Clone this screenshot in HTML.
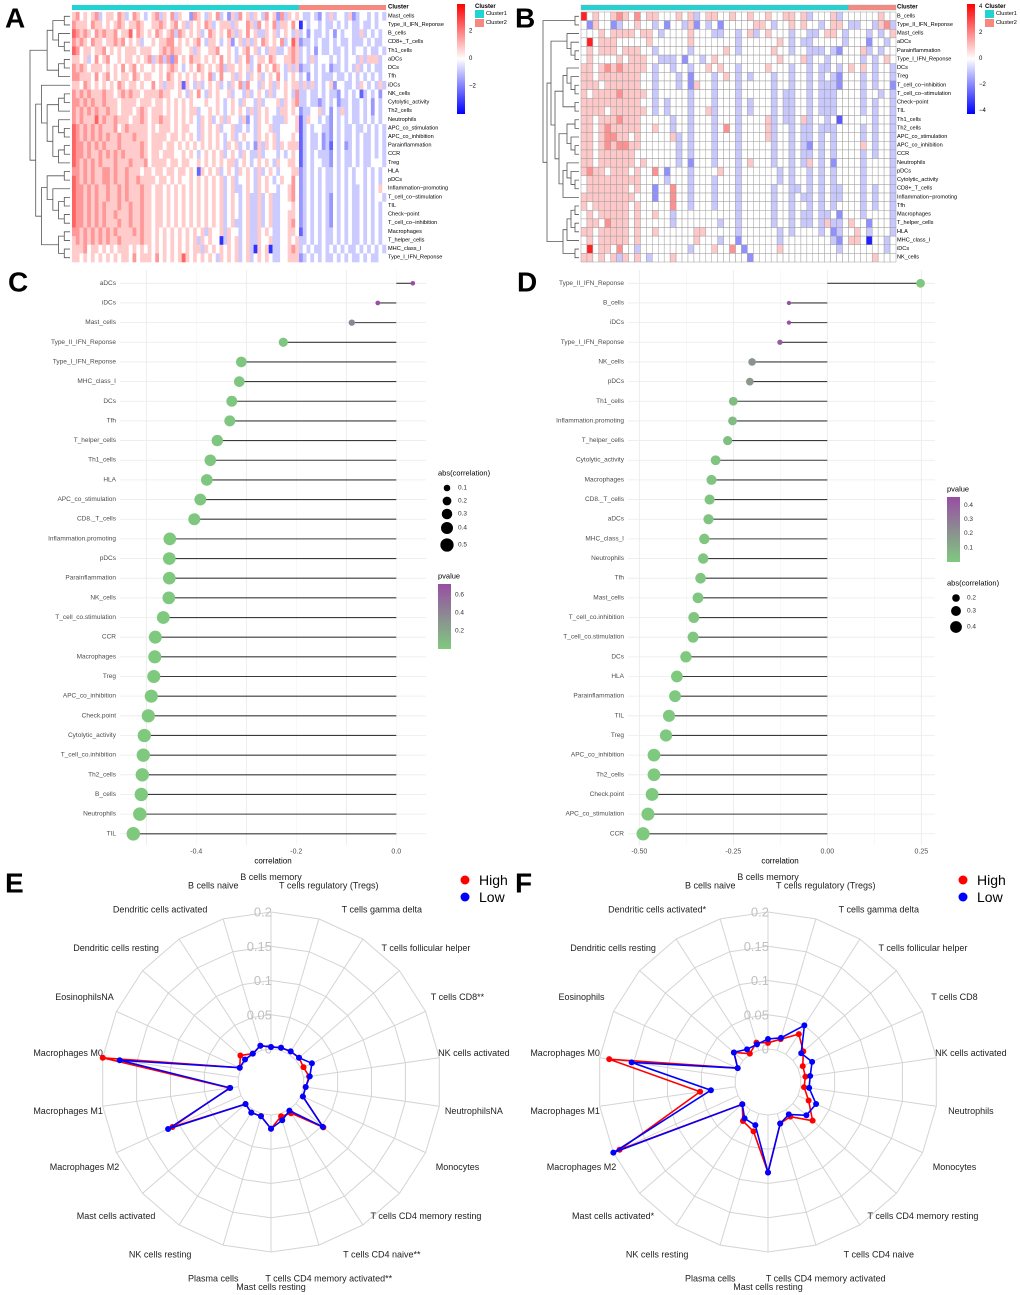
<!DOCTYPE html>
<html><head><meta charset="utf-8"><title>Immune figure</title>
<style>
html,body{margin:0;padding:0;background:#fff;}
svg{display:block;font-family:"Liberation Sans",Arial,sans-serif;}
</style></head>
<body>
<svg id="fig" xmlns="http://www.w3.org/2000/svg" width="1020" height="1295" viewBox="0 0 1020 1295">
<defs>
<linearGradient id="gA" x1="0" y1="0" x2="0" y2="1"><stop offset="0" stop-color="#ff0000"/><stop offset="0.5" stop-color="#ffffff"/><stop offset="1" stop-color="#0000ff"/></linearGradient>
<linearGradient id="gP" x1="0" y1="0" x2="0" y2="1"><stop offset="0" stop-color="#984ea3"/><stop offset="0.5" stop-color="#8c8c91"/><stop offset="1" stop-color="#7fc97f"/></linearGradient>
</defs>
</svg>
<script>
// ===== Panel A heatmap data =====
const A_rows=["Mast_cells","Type_II_IFN_Reponse","B_cells","CD8+_T_cells","Th1_cells","aDCs","DCs","Tfh","iDCs","NK_cells","Cytolytic_activity","Th2_cells","Neutrophils","APC_co_stimulation","APC_co_inhibition","Parainflammation","CCR","Treg","HLA","pDCs","Inflammation\u2212promoting","T_cell_co\u2212stimulation","TIL","Check\u2212point","T_cell_co\u2212inhibition","Macrophages","T_helper_cells","MHC_class_I","Type_I_IFN_Reponse"];
const A_cluster1Count=60;
const A_values=[
"5645456345 5465346543 4563546354 4265435463 4253645354 3645263545 | 4334324353 4435234434 343",
"6555465545 4565455654 4556545645 3545465345 5535446536 4546355464 | 0434434334 3434334334 344",
"7656546565 5645574654 5465456365 4545346545 4653546453 3545345435 | 3424334342 4344335343 434",
"6565465545 5656454534 4545566454 5456435543 4524535354 6545463475 | 2334343343 4334333434 334",
"7645545564 5454555455 5445656554 4535445564 4543456453 4355334565 | 3434243343 3434344343 343",
"5545346456 4454554545 6356362645 4655454546 4543546345 5465445565 | 3435344434 3434435355 534",
"6565455545 4546456454 4545456543 4546545456 3554545346 4546543535 | 2334343423 3434353434 334",
"6655546456 4545546545 5445465454 5454546346 4453543545 3454643454 | 3424343334 3343434343 434",
"5546545454 5465455454 4645355451 5435345453 4354636443 5453545455 | 3535343452 4433435434 353",
"6565655565 5456565545 5556554454 3546435454 4534435345 4353445436 | 3343343433 2434341343 424",
"6656565565 5545555455 5455454545 4544454454 3454354435 3444535456 | 3343323434 2334334342 434",
"6565656556 5545554565 4555454545 4553445454 3454543535 4544355454 | 2334453424 3534334342 434",
"6565557565 5655545565 4556554545 4543545345 3544352435 4543335445 | 1354434324 3434334343 434",
"7656565655 5645655555 4545554545 5443545453 4453343435 4453344445 | 1343443324 3433433434 343",
"7656565656 5565556555 4555545545 4543545454 3453454435 4545344454 | 1343342324 3433434334 343",
"7665656565 5565555565 4555455454 5454545454 3545343425 3545354555 | 1343342314 3423434334 343",
"7665655656 5656555565 4554555445 4543454545 3454354335 3444343454 | 1343433324 3433434334 343",
"7656565655 5655565556 4555545545 5445454545 4553454345 4543544554 | 1343443324 3433434334 443",
"6656565566 5655655545 5455455455 4541545453 4543545435 3454344455 | 2343434334 3434344343 434",
"7656565566 5655655655 5545545454 4545454545 3453445435 4543454464 | 2343434334 3434344343 434",
"7665656556 5565655565 5455454545 4545454545 3453345435 4544344564 | 2343434334 3434334343 454",
"7665656556 5565655565 5455454545 4545454545 3454345335 3453344564 | 2343434324 3434334343 443",
"7665656565 5565565565 5455454545 4545454545 3454345335 3453344454 | 2343434324 3434334343 434",
"7665656565 5655565565 5455454545 4545454545 3454345335 3453344554 | 2343434324 3434334343 434",
"7665656565 5565565565 5455454545 4545454545 3453345335 3453344564 | 2343434324 3434334343 434",
"6656565656 5655556565 5454545454 5454535445 3544345335 4543344554 | 1343434334 3434334343 434",
"5656565656 5565555565 5454545454 5453545440 3545345335 4453344545 | 3343434334 3434334343 434",
"5556455454 5455545454 5454545454 5455354545 4545345305 4503344565 | 3434334343 4343343434 343",
"5545454545 4545546455 5464545457 5454545435 4545345345 4543344555 | 2343434334 3434334343 344"];
const A_tree=[[[[0,1],[2,[3,4]]],[[5,6],7]],[[8,[[[9,10],11],[[12,[13,14]],[[15,16],17]]]],[[[18,19],[20,[[21,22],[23,24]]]],[[25,26],[27,28]]]]];

// ===== Panel B heatmap data =====
const B_rows=["B_cells","Type_II_IFN_Reponse","Mast_cells","aDCs","Parainflammation","Type_I_IFN_Reponse","DCs","Treg","T_cell_co\u2212inhibition","T_cell_co\u2212stimulation","Check\u2212point","TIL","Th1_cells","Th2_cells","APC_co_stimulation","APC_co_inhibition","CCR","Neutrophils","pDCs","Cytolytic_activity","CD8+_T_cells","Inflammation\u2212promoting","Tfh","Macrophages","T_helper_cells","HLA","MHC_class_I","iDCs","NK_cells"];
const B_cluster1Count=45;
const B_values=[
"8454456546 4554445453 4554454454 4544554534 44534 | 44444544",
"4254423445 4434244352 4342444445 5434454544 34554 | 33443563",
"4445455554 5543444454 4433443453 4544434433 45543 | 44434345",
"4845554444 4544444454 4444443444 4445434334 44443 | 44424434",
"4545554555 4434444434 4444543444 4454434433 34324 | 44534344",
"4544445455 5443334244 3454444444 4445444534 43444 | 44343454",
"5545656555 5434434434 4545443444 4544434434 33434 | 54543443",
"5545555555 4434443424 4434543434 4434434434 34324 | 44343443",
"5554555555 4434443425 4434443444 4434434434 33324 | 44343442",
"5455556555 5434444434 4434443444 4434334434 33344 | 44344343",
"5555555555 4434344434 4434443434 4434334434 33344 | 44343443",
"5555455555 5434344434 4534443434 4434334434 33344 | 44343443",
"5545556555 4444434434 4434443444 4534334534 43414 | 44443443",
"5545655555 4454434434 4434643444 4534434334 33344 | 44343443",
"5545665545 4444453434 4434443444 4534434334 34344 | 44343443",
"5545656655 4444443434 4434443444 4434434324 34344 | 44543443",
"5545555554 4444443434 4434443444 4434434334 34344 | 44343443",
"5545555554 5444443424 4434443454 4434434354 34244 | 44344443",
"5655455545 4464244434 4445443444 4443434434 34344 | 44344443",
"4555555555 4444344434 4434443444 4443434434 34344 | 44344443",
"4555555545 4424464434 4434443444 4434433434 34334 | 44343443",
"5555555554 4424464434 4434443444 4434434334 34334 | 44343443",
"5455555545 4444464434 4434443444 4434434434 34344 | 44343443",
"4545555545 4454434444 4444443444 4434434334 33424 | 44344443",
"4554655545 4444434444 4443443444 4434434334 35334 | 54424443",
"5545555545 4454444445 5444443444 4443434444 34234 | 45434443",
"4545555545 4444444445 4443442444 4443444444 44324 | 55404434",
"4845546443 4444444434 4454464244 4445444444 44434 | 44444434",
"5545453545 4344454444 4444444424 4444444444 44444 | 44445444"];
const B_tree=[[0,1],[[[2,[3,[4,5]]],[[[6,[7,[8,9]]],[10,11]],[[[12,13],[14,[15,16]]],[[17,[18,[19,20]]],21]]]],[[[[22,23],[24,25]],26],[27,28]]]];

// ===== Panel C lollipop data =====
const C_labels=["aDCs","iDCs","Mast_cells","Type_II_IFN_Reponse","Type_I_IFN_Reponse","MHC_class_I","DCs","Tfh","T_helper_cells","Th1_cells","HLA","APC_co_stimulation","CD8._T_cells","Inflammation.promoting","pDCs","Parainflammation","NK_cells","T_cell_co.stimulation","CCR","Macrophages","Treg","APC_co_inhibition","Check.point","Cytolytic_activity","T_cell_co.inhibition","Th2_cells","B_cells","Neutrophils","TIL"];
const C_corr=[0.033,-0.037,-0.089,-0.226,-0.31,-0.314,-0.329,-0.333,-0.358,-0.372,-0.379,-0.392,-0.404,-0.453,-0.454,-0.454,-0.455,-0.466,-0.482,-0.483,-0.485,-0.49,-0.496,-0.504,-0.506,-0.508,-0.51,-0.513,-0.526];
const C_pvalue=[0.72,0.7,0.4,0.02,0.01,0.01,0.01,0.01,0.01,0.01,0.01,0.01,0.01,0.002,0.002,0.002,0.002,0.002,0.001,0.001,0.001,0.001,0.001,0.001,0.001,0.001,0.001,0.001,0.001];
const C_ticks=[-0.4,-0.2,0.0];
const C_tickLabels=["-0.4","-0.2","0.0"];
const C_sizeLegend=[0.1,0.2,0.3,0.4,0.5];
const C_pLegend=[0.6,0.4,0.2];

// ===== Panel D lollipop data =====
const D_labels=["Type_II_IFN_Reponse","B_cells","iDCs","Type_I_IFN_Reponse","NK_cells","pDCs","Th1_cells","Inflammation.promoting","T_helper_cells","Cytolytic_activity","Macrophages","CD8._T_cells","aDCs","MHC_class_I","Neutrophils","Tfh","Mast_cells","T_cell_co.inhibition","T_cell_co.stimulation","DCs","HLA","Parainflammation","TIL","Treg","APC_co_inhibition","Th2_cells","Check.point","APC_co_stimulation","CCR"];
const D_corr=[0.248,-0.102,-0.102,-0.126,-0.2,-0.206,-0.25,-0.252,-0.265,-0.297,-0.308,-0.313,-0.316,-0.327,-0.33,-0.337,-0.344,-0.355,-0.357,-0.376,-0.4,-0.405,-0.421,-0.429,-0.461,-0.461,-0.466,-0.477,-0.49];
const D_pvalue=[0.01,0.45,0.45,0.4,0.2,0.18,0.05,0.05,0.04,0.02,0.02,0.02,0.02,0.01,0.01,0.01,0.01,0.01,0.01,0.005,0.003,0.003,0.002,0.002,0.001,0.001,0.001,0.001,0.001];
const D_ticks=[-0.5,-0.25,0,0.25];
const D_tickLabels=["-0.50","-0.25","0.00","0.25"];
const D_sizeLegend=[0.2,0.3,0.4];
const D_pLegend=[0.4,0.3,0.2,0.1];

// ===== Panels E/F radar data =====
const E_labels=["B cells memory","T cells regulatory (Tregs)","T cells gamma delta","T cells follicular helper","T cells CD8**","NK cells activated","NeutrophilsNA","Monocytes","T cells CD4 memory resting","T cells CD4 naive**","T cells CD4 memory activated**","Mast cells resting","Plasma cells","NK cells resting","Mast cells activated","Macrophages M2","Macrophages M1","Macrophages M0","EosinophilsNA","Dendritic cells resting","Dendritic cells activated","B cells naive"];
const E_high=[0.003,0.004,0.005,0.006,0.004,0.008,0.003,0.003,0.053,0.006,0.004,0.02,0.0035,0.005,0.001,0.11,0.013,0.2,0.002,0.011,0.001,0.007];
const E_low=[0.003,0.004,0.005,0.006,0.0175,0.009,0.003,0.003,0.052,0.0015,0.01,0.02,0.004,0.005,0.001,0.117,0.012,0.175,0.002,0.002,0.001,0.007];
const F_labels=["B cells memory","T cells regulatory (Tregs)","T cells gamma delta","T cells follicular helper","T cells CD8","NK cells activated","Neutrophils","Monocytes","T cells CD4 memory resting","T cells CD4 naive","T cells CD4 memory activated","Mast cells resting","Plasma cells","NK cells resting","Mast cells activated*","Macrophages M2","Macrophages M1","Macrophages M0","Eosinophils","Dendritic cells resting","Dendritic cells activated*","B cells naive"];
const F_high=[0.009,0.017,0.035,0.02,0.0076,0.007,0.005,0.017,0.038,0.012,0.015,0.084,0.027,0.0195,0.0015,0.19,0.052,0.186,0.0005,0.0177,0.001,0.0117];
const F_low=[0.0146,0.019,0.05,0.016,0.0226,0.014,0.0125,0.029,0.026,0.008,0.015,0.084,0.0175,0.015,0.0015,0.2,0.036,0.153,0.0005,0.0177,0.0085,0.009];
const radarRings=[0,0.05,0.1,0.15,0.2];
const radarRingLabels=["0","0.05","0.1","0.15","0.2"];

// ===== drawing =====
const NS='http://www.w3.org/2000/svg';
const svg=document.getElementById('fig');
function mk(tag,attrs,parent){const e=document.createElementNS(NS,tag);for(const k in attrs)e.setAttribute(k,attrs[k]);(parent||svg).appendChild(e);return e;}
function txt(x,y,s,size,anchor,fill,weight,parent){const t=mk('text',{x:x,y:y,'font-size':size,'text-anchor':anchor||'start',fill:fill||'#000','dominant-baseline':'central'},parent);if(weight)t.setAttribute('font-weight',weight);t.textContent=s;return t;}
function grp(name){const g=mk('g',{});return g;}

[["A",5,18],["B",515,18],["C",8,282],["D",517,282],["E",5,883],["F",515,883]].forEach(p=>{
  const t=txt(p[1],p[2],p[0],28,'start','#000','bold');
  
  
});

function heatColor(v,vmax){const t=Math.max(-1,Math.min(1,v/vmax));
  if(t>=0){const c=Math.round(255*(1-t));return `rgb(255,${c},${c})`;}
  const c=Math.round(255*(1+t));return `rgb(${c},${c},255)`;}

function drawHeatmap(cfg){
  const g=grp(cfg.name);
  const rows=cfg.values.map(s=>s.replace(/[^0-9]/g,''));
  const nCol=Math.max(...rows.map(r=>r.length));
  const nRow=rows.length;
  const cw=(cfg.x1-cfg.x0)/nCol, rh=(cfg.y1-cfg.y0)/nRow;
  const b1=mk('rect',{x:cfg.x0,y:cfg.cy0,width:cw*cfg.n1,height:cfg.cy1-cfg.cy0,fill:'#22d3d3',stroke:cfg.stroke||'none','stroke-width':0.4},g);
  
  
  const b2=mk('rect',{x:cfg.x0+cw*cfg.n1,y:cfg.cy0,width:cw*(nCol-cfg.n1),height:cfg.cy1-cfg.cy0,fill:'#f6897f',stroke:cfg.stroke||'none','stroke-width':0.4},g);
  
  
  const cl=txt(cfg.lx,(cfg.cy0+cfg.cy1)/2,'Cluster',6,'start','#000','bold',g);
  
  
  rows.forEach((r,i)=>{
    for(let j=0;j<nCol;j++){
      const d=j<r.length?+r[j]:4;
      const v=(d-4)*cfg.unit;
      const c=mk('rect',{x:(cfg.x0+j*cw).toFixed(2),y:(cfg.y0+i*rh).toFixed(2),width:(cw+(cfg.stroke?0:0.3)).toFixed(2),height:(rh+(cfg.stroke?0:0.3)).toFixed(2),fill:heatColor(v,cfg.vmax)},g);
      if(cfg.stroke){c.setAttribute('stroke',cfg.stroke);c.setAttribute('stroke-width',0.5);}
      
      
    }
    const l=txt(cfg.lx,cfg.y0+(i+0.5)*rh,cfg.labels[i],5.6,'start','#000',null,g);
    
    
  });
  function depth(n){return Array.isArray(n)?1+Math.max(depth(n[0]),depth(n[1])):0;}
  const maxD=depth(cfg.tree);
  const step=(cfg.x0-2-cfg.rootX)/maxD;
  const X=h=>cfg.x0-2-h*step;
  let path='';
  function walk(n){
    if(!Array.isArray(n))return {y:cfg.y0+(n+0.5)*rh,h:0};
    const a=walk(n[0]),b=walk(n[1]);const h=1+Math.max(a.h,b.h);
    path+=`M${X(a.h)},${a.y}H${X(h)}V${b.y}H${X(b.h)}`;
    return {y:(a.y+b.y)/2,h:h};
  }
  walk(cfg.tree);
  const dp=mk('path',{d:path,fill:'none',stroke:'#555','stroke-width':0.8},g);
  
  
  const cb=mk('rect',{x:cfg.legX,y:4,width:8,height:110,fill:'url(#gA)'},g);
  
  
  cfg.legTicks.forEach(t=>{
    const y=59-t*cfg.legPx;
    const tl=txt(cfg.legX+12,y,t<0?'\u2212'+(-t):String(t),6,'start','#000',null,g);
    
    
  });
  const lt=txt(cfg.legX+18,7,'Cluster',6,'start','#000','bold',g);
  
  
  [['#22d3d3','Cluster1',10],['#f6897f','Cluster2',19]].forEach(e=>{
    const s=mk('rect',{x:cfg.legX+18,y:e[2],width:9,height:8,fill:e[0]},g);
    
    
    const l=txt(cfg.legX+29,e[2]+4,e[1],5.6,'start','#000',null,g);
    
    
  });
}
drawHeatmap({name:'heatmap-a',labels:A_rows,values:A_values,n1:A_cluster1Count,x0:72,x1:386,y0:12,y1:262,cy0:5,cy1:10,lx:388,unit:0.85,vmax:4.2,tree:A_tree,rootX:30,legX:457,legTicks:[2,0,-2],legPx:13.7});
drawHeatmap({name:'heatmap-b',labels:B_rows,values:B_values,n1:B_cluster1Count,x0:581,x1:896,y0:12,y1:262,cy0:5,cy1:10,lx:897,unit:1,vmax:4.6,tree:B_tree,rootX:543,legX:967,legTicks:[4,2,0,-2,-4],legPx:13,stroke:'#a0a0a0'});

function pColor(p,pmax){const t=Math.max(0,Math.min(1,p/pmax));
  let a,b,u;
  if(t<0.5){a=[127,201,127];b=[140,140,145];u=t/0.5;}else{a=[140,140,145];b=[152,78,163];u=(t-0.5)/0.5;}
  return `rgb(${Math.round(a[0]+(b[0]-a[0])*u)},${Math.round(a[1]+(b[1]-a[1])*u)},${Math.round(a[2]+(b[2]-a[2])*u)})`;}
function drawLolli(cfg){
  const g=grp(cfg.name);
  const X=v=>cfg.x0+v*cfg.k;
  const Y=i=>cfg.yTop+i*cfg.dy;
  const yA=270,yB=845;
  cfg.grid.forEach((v,i)=>{
    const l=mk('line',{x1:X(v),x2:X(v),y1:yA,y2:yB,stroke:i%2?'#f2f2f2':'#e8e8e8','stroke-width':i%2?0.5:0.8},g);
    
    
  });
  cfg.labels.forEach((lab,i)=>{
    const l=mk('line',{x1:cfg.px0,x2:cfg.px1,y1:Y(i),y2:Y(i),stroke:'#ebebeb','stroke-width':0.8},g);
    
    
  });
  const absV=cfg.vals.map(Math.abs);
  const aMin=cfg.aMin,aMax=cfg.aMax;
  const R=a=>Math.sqrt(cfg.rMin*cfg.rMin+Math.max(0,(a-aMin)/(aMax-aMin))*(cfg.rMax*cfg.rMax-cfg.rMin*cfg.rMin));
  cfg.labels.forEach((lab,i)=>{
    const v=cfg.vals[i];
    const s=mk('line',{x1:X(0),x2:X(v),y1:Y(i),y2:Y(i),stroke:'#3a3a3a','stroke-width':1.1},g);
    
    
    const c=mk('circle',{cx:X(v),cy:Y(i),r:R(absV[i]),fill:pColor(cfg.p[i],cfg.pmax)},g);
    
    
    const t=txt(cfg.labX,Y(i),lab,6.5,'end','#4d4d4d',null,g);
    
    
  });
  cfg.ticks.forEach((v,i)=>{
    const t=txt(X(v),852,cfg.tickLabels[i],7,'middle','#4d4d4d',null,g);
    
    
  });
  const xt=txt(cfg.xTitle,861,'correlation',8,'middle','#000',null,g);
  
  
  const st=txt(cfg.sLeg.x,cfg.sLeg.y,'abs(correlation)',7.5,'start','#000',null,g);
  
  
  cfg.sizeLegend.forEach((a,i)=>{
    const y=cfg.sLeg.ys[i];
    const c=mk('circle',{cx:cfg.sLeg.x+9,cy:y,r:R(a),fill:'#000'},g);
    
    
    const t=txt(cfg.sLeg.x+20,y,String(a),6.5,'start','#333',null,g);
    
    
  });
  const pt=txt(cfg.pLeg.x,cfg.pLeg.y,'pvalue',7.5,'start','#000',null,g);
  
  
  const bar=mk('rect',{x:cfg.pLeg.x,y:cfg.pLeg.b0,width:13,height:cfg.pLeg.b1-cfg.pLeg.b0,fill:'url(#gP)'},g);
  
  
  cfg.pLegend.forEach(p=>{
    const y=cfg.pLeg.b1-p/cfg.pmax*(cfg.pLeg.b1-cfg.pLeg.b0);
    const t=txt(cfg.pLeg.x+17,y,String(p),6.5,'start','#333',null,g);
    
    
  });
}
drawLolli({name:'lollipop-c',labels:C_labels,vals:C_corr,p:C_pvalue,pmax:0.72,x0:396.3,k:500,yTop:283.3,dy:19.66,
  grid:[-0.5,-0.4,-0.3,-0.2,-0.1,0],px0:120,px1:426,labX:116,ticks:C_ticks,tickLabels:C_tickLabels,xTitle:273,
  aMin:0.033,aMax:0.526,rMin:2.3,rMax:6.8,sizeLegend:C_sizeLegend,
  sLeg:{x:438,y:473,ys:[488,501,514,528,545]},pLegend:C_pLegend,pLeg:{x:438,y:576,b0:584,b1:649}});
drawLolli({name:'lollipop-d',labels:D_labels,vals:D_corr,p:D_pvalue,pmax:0.46,x0:827.3,k:376,yTop:283.3,dy:19.66,
  grid:[-0.5,-0.375,-0.25,-0.125,0,0.125,0.25],px0:628,px1:935,labX:624,ticks:D_ticks,tickLabels:D_tickLabels,xTitle:780,
  aMin:0.1,aMax:0.49,rMin:2.1,rMax:6.6,sizeLegend:D_sizeLegend,
  sLeg:{x:947,y:583,ys:[598,611,627]},pLegend:D_pLegend,pLeg:{x:947,y:489,b0:497,b1:562}});

function drawRadar(cfg){
  const g=grp(cfg.name);
  const n=cfg.labels.length, R0=33, R1=170;
  const rad=v=>R0+v/0.2*(R1-R0);
  const ang=i=>i*2*Math.PI/n;
  const P=(i,r)=>[cfg.cx+r*Math.sin(ang(i)),cfg.cy-r*Math.cos(ang(i))];
  radarRings.forEach(v=>{
    const pts=[];for(let i=0;i<n;i++){pts.push(P(i,rad(v)).map(z=>z.toFixed(1)).join(','));}
    const pg=mk('polygon',{points:pts.join(' '),fill:'none',stroke:'#d4d4d4','stroke-width':1},g);
    
    
  });
  for(let i=0;i<n;i++){
    const a=P(i,R0),b=P(i,R1);
    const l=mk('line',{x1:a[0],y1:a[1],x2:b[0],y2:b[1],stroke:'#d4d4d4','stroke-width':1},g);
    
    
    const q=P(i,205);
    const t=txt(q[0],q[1],cfg.labels[i],9,'middle','#222',null,g);
    
    
  }
  radarRings.forEach((v,i)=>{
    const t=txt(cfg.cx+1,cfg.cy-rad(v),radarRingLabels[i],13,'end','#c0c0c0',null,g);
    
    
  });
  [[cfg.high,'#ff0000','high'],[cfg.low,'#0000ff','low']].forEach(s=>{
    const pts=s[0].map((v,i)=>P(i,rad(v)));
    const pl=mk('polygon',{points:pts.map(p=>p[0].toFixed(1)+','+p[1].toFixed(1)).join(' '),fill:'none',stroke:s[1],'stroke-width':1.6},g);
    
    
    pts.forEach(p=>{
      const c=mk('circle',{cx:p[0],cy:p[1],r:3,fill:s[1]},g);
      
      
    });
  });
  [['High','#ff0000',880],['Low','#0000ff',897]].forEach(e=>{
    const c=mk('circle',{cx:cfg.legX,cy:e[2],r:4.5,fill:e[1]},g);
    
    
    const t=txt(cfg.legX+14,e[2],e[0],14,'start','#000',null,g);
    
    
  });
}
drawRadar({name:'radar-e',labels:E_labels,high:E_high,low:E_low,cx:271,cy:1082,legX:465});
drawRadar({name:'radar-f',labels:F_labels,high:F_high,low:F_low,cx:768,cy:1082,legX:963});
</script>
</body></html>
